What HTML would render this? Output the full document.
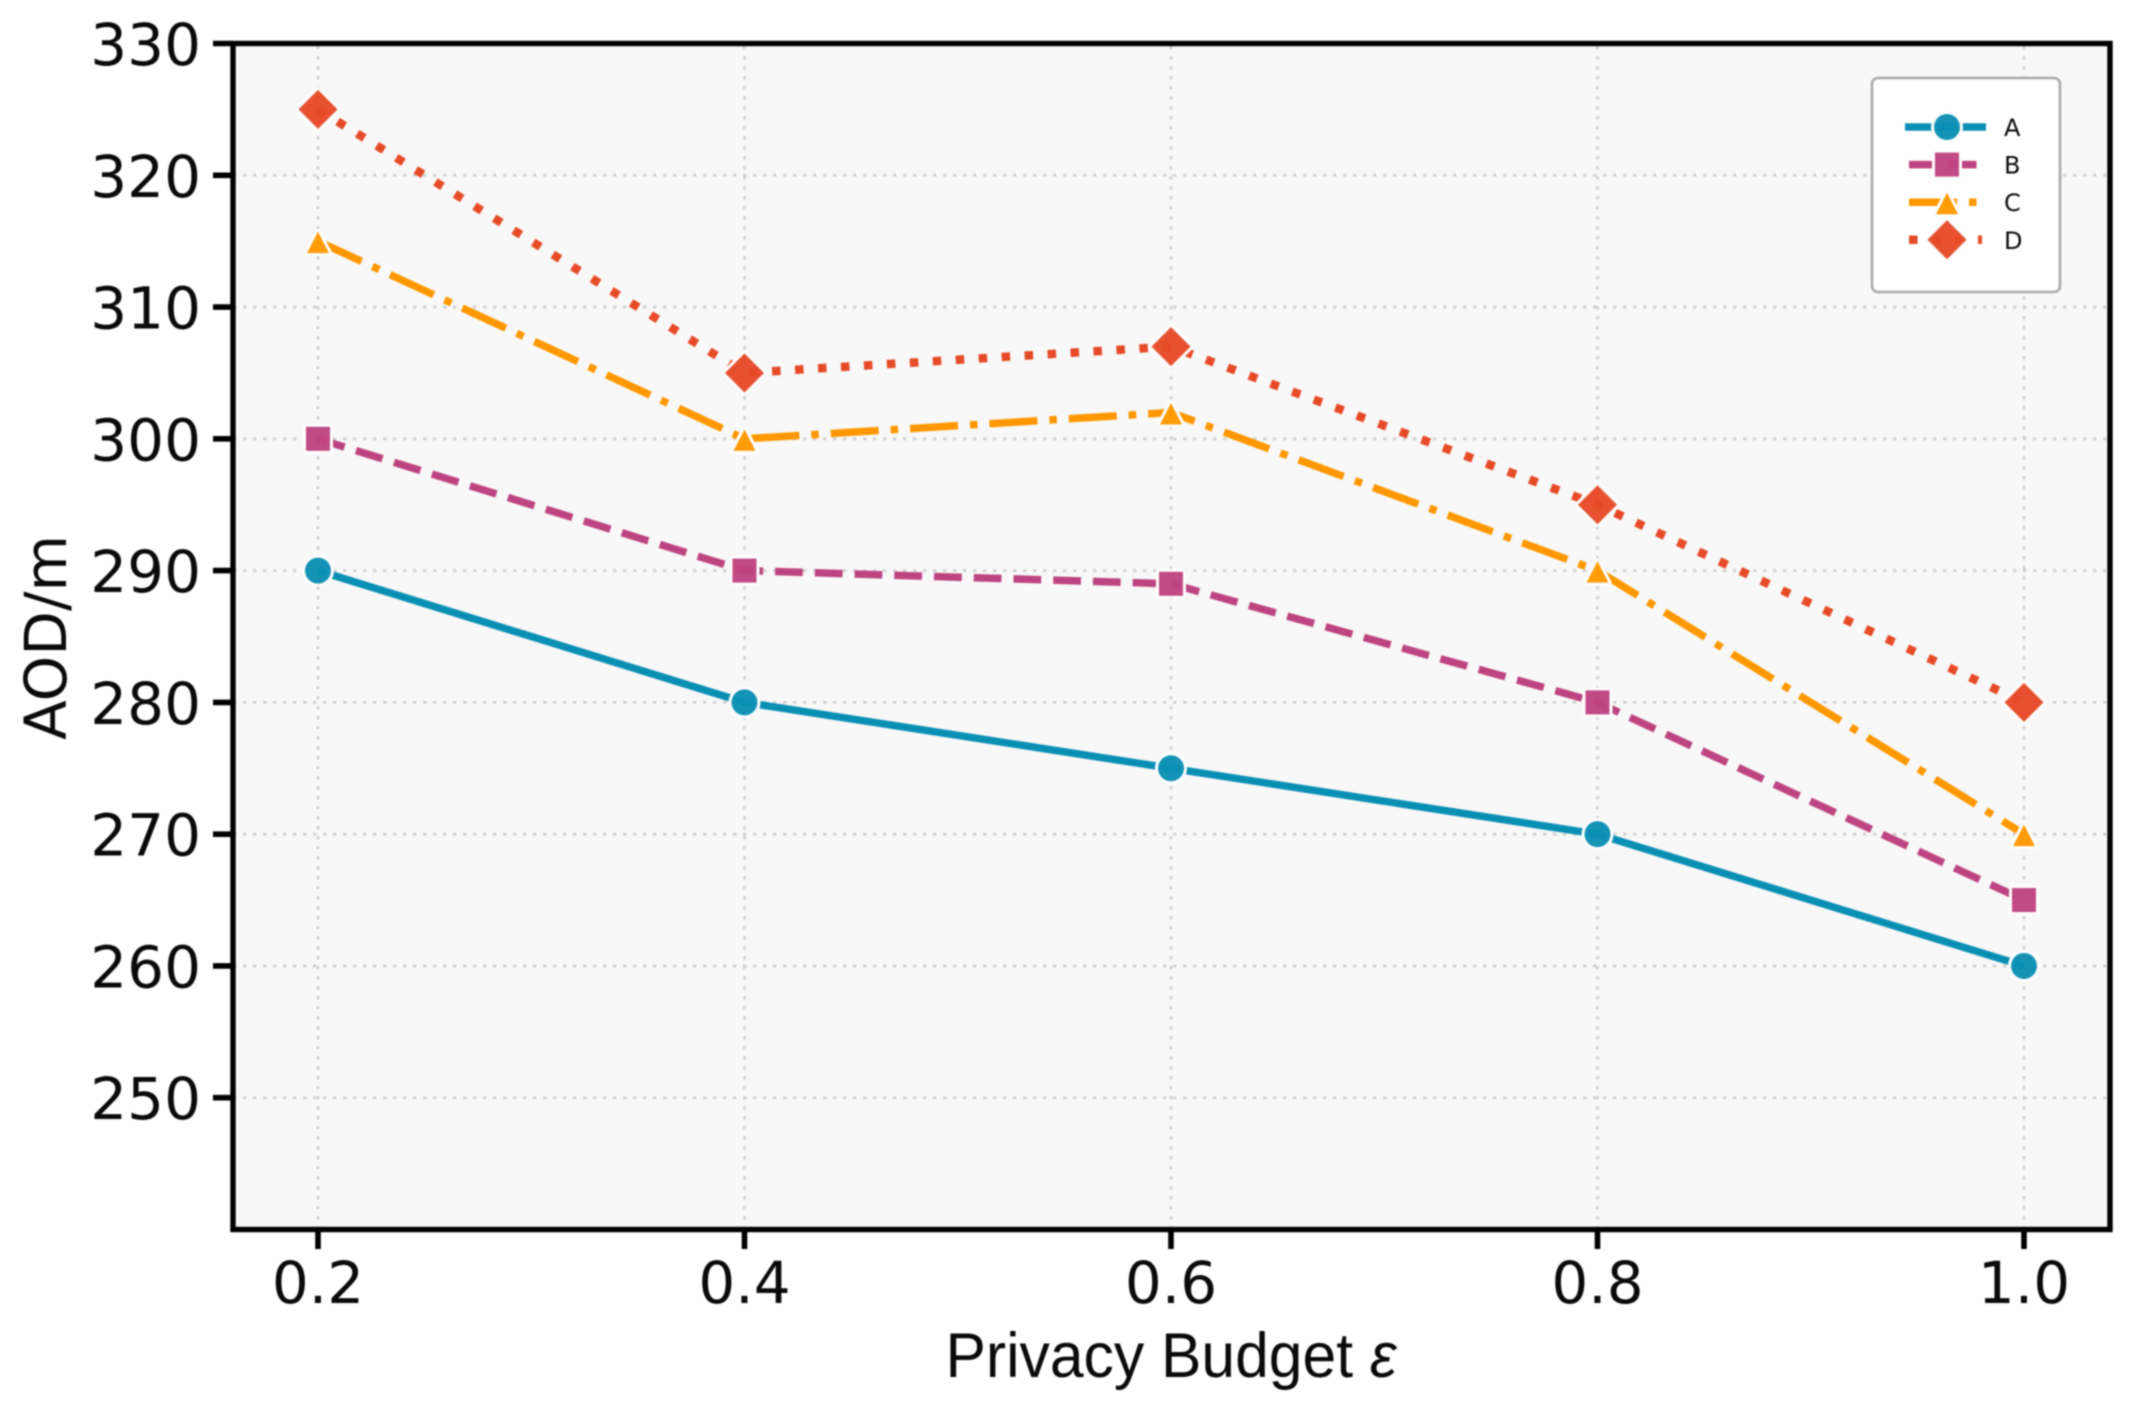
<!DOCTYPE html>
<html lang="en">
<head>
<meta charset="utf-8">
<title>AOD vs Privacy Budget</title>
<style>
  html, body { margin: 0; padding: 0; background: #fff; }
  body { width: 2130px; height: 1406px; overflow: hidden; }
  svg { display: block; filter: blur(0.7px); }
  text { fill: #0a0a0a; }
</style>
</head>
<body>
<svg id="chart" xmlns="http://www.w3.org/2000/svg" width="2130" height="1406" viewBox="0 0 2130 1406"></svg>
<script>
const xCategories = [0.2, 0.4, 0.6, 0.8, 1.0];
const xTickLabels = ['0.2', '0.4', '0.6', '0.8', '1.0'];
const yTicks = [250, 260, 270, 280, 290, 300, 310, 320, 330];
const seriesNames = ['A', 'B', 'C', 'D'];
const seriesA = [290, 280, 275, 270, 260];
const seriesB = [300, 290, 289, 280, 265];
const seriesC = [315, 300, 302, 290, 270];
const seriesD = [325, 305, 307, 295, 280];

const NS = 'http://www.w3.org/2000/svg';
const svg = document.getElementById('chart');
const plot = { left: 233, right: 2110, top: 43.5, bottom: 1229.5 };
const yDomain = [240, 330];
const LW = 7.5;

function xScale(v) {
  return 318 + (v - 0.2) * 2132.5;
}
function yScale(v) {
  return plot.bottom - (v - yDomain[0]) / (yDomain[1] - yDomain[0]) * (plot.bottom - plot.top);
}
function make(tag, attrs, parent) {
  const el = document.createElementNS(NS, tag);
  for (const k in attrs) el.setAttribute(k, attrs[k]);
  (parent || svg).appendChild(el);
  return el;
}

const styles = {
  A: { color: '#0a8fb4', dash: 'none', marker: 'circle', width: LW },
  B: { color: '#bd4480', dash: (3.7 * LW) + ' ' + (1.6 * LW), marker: 'square', width: LW },
  C: { color: '#ff9800', dash: (6.4 * LW) + ' ' + (1.6 * LW) + ' ' + LW + ' ' + (1.6 * LW), marker: 'triangle', width: LW },
  D: { color: '#e64a26', dash: '8.5 14.5', marker: 'diamond', width: 8.5 }
};
const seriesValues = { A: seriesA, B: seriesB, C: seriesC, D: seriesD };

function drawMarker(parent, kind, cx, cy, color) {
  const common = { fill: color, stroke: '#fdfdfd', 'stroke-width': 6, 'paint-order': 'stroke', 'stroke-linejoin': 'round' };
  let m;
  if (kind === 'circle') {
    m = make('circle', Object.assign({ cx: cx, cy: cy, r: 13 }, common), parent);
  } else if (kind === 'square') {
    m = make('rect', Object.assign({ x: cx - 12, y: cy - 12, width: 24, height: 24 }, common), parent);
  } else if (kind === 'triangle') {
    const pts = [[cx, cy - 9.5], [cx - 11, cy + 12], [cx + 11, cy + 12]];
    m = make('polygon', Object.assign({ points: pts.map(p => p.join(',')).join(' ') }, common), parent);
  } else {
    const pts = [[cx, cy - 19.5], [cx + 19.5, cy], [cx, cy + 19.5], [cx - 19.5, cy]];
    m = make('polygon', Object.assign({ points: pts.map(p => p.join(',')).join(' ') }, common), parent);
  }
  m.setAttribute('fill-opacity', '0.96');
  return m;
}

/* plot background */
const bg = make('rect', { x: plot.left, y: plot.top, width: plot.right - plot.left, height: plot.bottom - plot.top, fill: '#f8f8f8' });



/* grid */
const gridGroup = make('g', { stroke: '#cfcfcf', 'stroke-width': 2.8, 'stroke-dasharray': '3.4 6.6', fill: 'none' });


yTicks.forEach(function (t) {
  const l = make('line', { x1: plot.left, x2: plot.right, y1: yScale(t), y2: yScale(t) }, gridGroup);
  
  
});
xCategories.forEach(function (t) {
  const l = make('line', { x1: xScale(t), x2: xScale(t), y1: plot.bottom, y2: plot.top }, gridGroup);
  
  
});

/* series */
seriesNames.forEach(function (name) {
  const st = styles[name];
  const vals = seriesValues[name];
  const g = make('g', {});
  
  
  const pts = vals.map(function (v, i) { return xScale(xCategories[i]) + ',' + yScale(v); }).join(' ');
  const line = make('polyline', { points: pts, fill: 'none', stroke: st.color, 'stroke-width': st.width, 'stroke-dasharray': st.dash, 'stroke-linejoin': 'round', 'stroke-linecap': 'butt' }, g);
  
  
  vals.forEach(function (v, i) {
    const m = drawMarker(g, st.marker, xScale(xCategories[i]), yScale(v), st.color);
    
    
  });
});

/* spines */
const frame = make('rect', { x: plot.left, y: plot.top, width: plot.right - plot.left, height: plot.bottom - plot.top, fill: 'none', stroke: '#000', 'stroke-width': 5.4 });



/* y axis */
const yAxis = make('g', {});


yTicks.forEach(function (t) {
  const y = yScale(t);
  const tick = make('line', { x1: 213, x2: plot.left, y1: y, y2: y, stroke: '#000', 'stroke-width': 5.6 }, yAxis);
  
  
  const label = make('text', { x: 201, y: y + 21.5, 'text-anchor': 'end', 'font-family': '"DejaVu Sans", sans-serif', 'font-size': 58 }, yAxis);
  label.textContent = String(t);
  
  
});
const yTitle = make('text', { transform: 'translate(66 637.5) rotate(-90)', 'text-anchor': 'middle', 'font-family': '"DejaVu Sans", sans-serif', 'font-size': 58 }, yAxis);
yTitle.textContent = 'AOD/m';



/* x axis */
const xAxis = make('g', {});


xCategories.forEach(function (t, i) {
  const x = xScale(t);
  const tick = make('line', { x1: x, x2: x, y1: plot.bottom, y2: 1249, stroke: '#000', 'stroke-width': 5.6 }, xAxis);
  
  
  const label = make('text', { x: x, y: 1303, 'text-anchor': 'middle', 'font-family': '"DejaVu Sans", sans-serif', 'font-size': 58 }, xAxis);
  label.textContent = xTickLabels[i];
  
  
});
const xTitle = make('text', { x: 1171, y: 1377, 'text-anchor': 'middle', 'font-family': '"Liberation Sans", sans-serif', 'font-size': 63, textLength: 451, lengthAdjust: 'spacingAndGlyphs' }, xAxis);
xTitle.textContent = 'Privacy Budget ';


const eps = make('tspan', { 'font-style': 'italic' }, xTitle);
eps.textContent = 'ε';

/* legend */
const legend = make('g', {});


const legendBox = make('rect', { x: 1872, y: 78, width: 188, height: 214, rx: 6, ry: 6, fill: '#fff', 'fill-opacity': 0.97, stroke: '#aaa', 'stroke-width': 2.6 }, legend);


seriesNames.forEach(function (name, i) {
  const st = styles[name];
  const cy = 127 + i * 37.6;
  const entry = make('g', {}, legend);
  
  
  const solid = st.dash === 'none';
  make('line', { x1: solid ? 1905 : 1909, x2: solid ? 1986 : 1982, y1: cy, y2: cy, stroke: st.color, 'stroke-width': st.width, 'stroke-dasharray': st.dash }, entry);
  drawMarker(entry, st.marker, 1947, cy, st.color);
  const t = make('text', { x: 2004, y: cy + 9, 'font-family': '"DejaVu Sans", sans-serif', 'font-size': 24 }, entry);
  t.textContent = name;
});
</script>
</body>
</html>
